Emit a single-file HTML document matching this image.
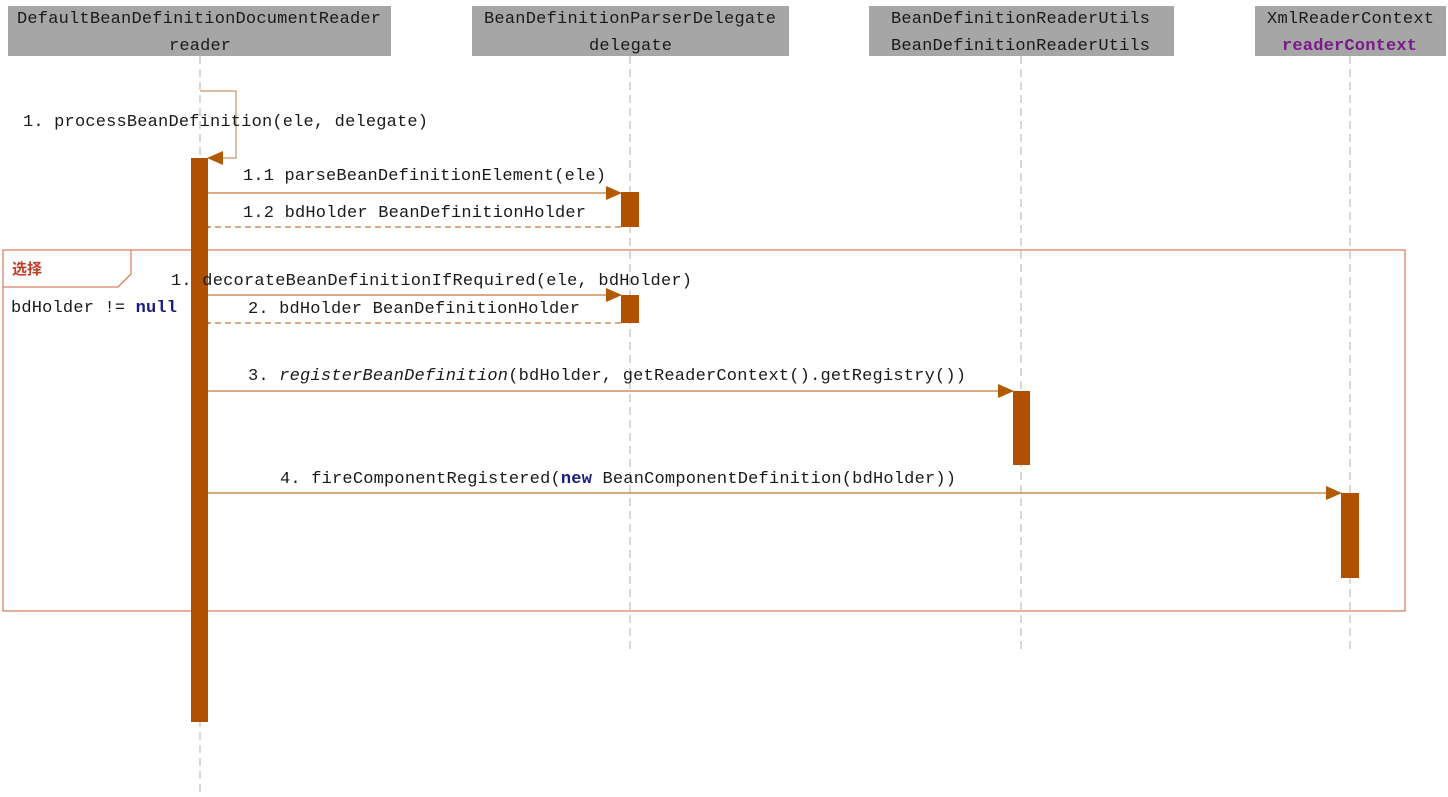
<!DOCTYPE html>
<html><head><meta charset="utf-8"><style>
html,body{margin:0;padding:0;background:#fff;}
svg{display:block;}
text{font-family:"Liberation Mono","Noto Sans CJK SC",monospace;font-size:17px;fill:#1a1a1a;}
</style></head><body>
<svg width="1448" height="797" viewBox="0 0 1448 797" xmlns="http://www.w3.org/2000/svg">
<defs>
<marker id="fa" markerWidth="16" markerHeight="14" refX="15" refY="7" orient="auto" markerUnits="userSpaceOnUse">
<path d="M0,0 L16,7 L0,14 Z" fill="#b35a00"/></marker>
<marker id="oa" markerWidth="16" markerHeight="16" refX="1" refY="8" orient="auto" markerUnits="userSpaceOnUse">
<path d="M14,0 L1,8 L14,16" fill="none" stroke="#b35a00" stroke-width="1"/></marker>
</defs>
<!-- headers -->
<rect x="8" y="6" width="383" height="50" fill="#a6a6a6"/>
<rect x="472" y="6" width="317" height="50" fill="#a6a6a6"/>
<rect x="869" y="6" width="305" height="50" fill="#a6a6a6"/>
<rect x="1255" y="6" width="191" height="50" fill="#a6a6a6"/>
<text x="17" y="23" textLength="364">DefaultBeanDefinitionDocumentReader</text>
<text x="169" y="50" textLength="62">reader</text>
<text x="484" y="23" textLength="292">BeanDefinitionParserDelegate</text>
<text x="589" y="50" textLength="83">delegate</text>
<text x="891" y="23" textLength="259">BeanDefinitionReaderUtils</text>
<text x="891" y="50" textLength="259">BeanDefinitionReaderUtils</text>
<text x="1267" y="23" textLength="167">XmlReaderContext</text>
<text x="1282" y="50" textLength="135" style="fill:#7a1a8a;font-weight:bold">readerContext</text>
<!-- lifelines -->
<g stroke="#b0b0b0" stroke-width="1" stroke-dasharray="8,5">
<line x1="200" y1="56" x2="200" y2="797"/>
<line x1="630" y1="56" x2="630" y2="652"/>
<line x1="1021" y1="56" x2="1021" y2="652"/>
<line x1="1350" y1="56" x2="1350" y2="652"/>
</g>
<!-- frame -->
<rect x="3" y="250" width="1402" height="361" fill="none" stroke="#d0603a" stroke-width="1"/>
<path d="M3,287 L118,287 L131,274 L131,250" fill="none" stroke="#d0603a" stroke-width="1"/>
<text x="12" y="274" style="fill:#c0402a;font-weight:bold;font-size:15px">选择</text>
<text x="11" y="312" textLength="166">bdHolder != <tspan style="fill:#1a1a80;font-weight:bold">null</tspan></text>
<!-- activations -->
<rect x="191" y="158" width="17" height="564" fill="#b05000"/>
<rect x="621" y="192" width="18" height="35" fill="#b05000"/>
<rect x="621" y="295" width="18" height="28" fill="#b05000"/>
<rect x="1013" y="391" width="17" height="74" fill="#b05000"/>
<rect x="1341" y="493" width="18" height="85" fill="#b05000"/>
<!-- self loop -->
<path d="M200,91 L236,91 L236,158 L208,158" fill="none" stroke="#c07a40" stroke-width="1" marker-end="url(#fa)"/>
<text x="23" y="126" textLength="405">1. processBeanDefinition(ele, delegate)</text>
<!-- messages -->
<g stroke="#b35a00" stroke-width="1" fill="none">
<line x1="208" y1="193" x2="621" y2="193" marker-end="url(#fa)"/>
<line x1="621" y1="227" x2="209" y2="227" stroke-dasharray="6,4" marker-end="url(#oa)"/>
<line x1="208" y1="295" x2="621" y2="295" marker-end="url(#fa)"/>
<line x1="621" y1="323" x2="209" y2="323" stroke-dasharray="6,4" marker-end="url(#oa)"/>
<line x1="208" y1="391" x2="1013" y2="391" marker-end="url(#fa)"/>
<line x1="208" y1="493" x2="1341" y2="493" marker-end="url(#fa)"/>
</g>
<text x="243" y="180" textLength="363">1.1 parseBeanDefinitionElement(ele)</text>
<text x="243" y="217" textLength="343">1.2 bdHolder BeanDefinitionHolder</text>
<text x="171" y="285" textLength="521">1. decorateBeanDefinitionIfRequired(ele, bdHolder)</text>
<text x="248" y="313" textLength="332">2. bdHolder BeanDefinitionHolder</text>
<text x="248" y="380" textLength="718">3. <tspan font-style="italic">registerBeanDefinition</tspan>(bdHolder, getReaderContext().getRegistry())</text>
<text x="280" y="483" textLength="676">4. fireComponentRegistered(<tspan style="fill:#1a1a80;font-weight:bold">new</tspan> BeanComponentDefinition(bdHolder))</text>
</svg>
</body></html>
